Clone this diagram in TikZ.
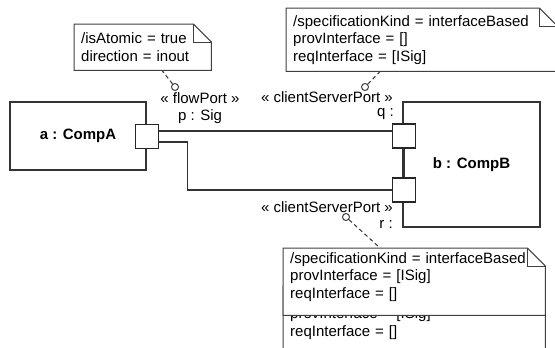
\documentclass[tikz,border=0pt]{standalone}
\usepackage{fontspec}
\setmainfont{Liberation Sans}
\usetikzlibrary{calc}
\newcommand\notefont{\fontsize{15}{17.5}\selectfont}
% note outline with folded corner
\newcommand\dogear[1]{%
  \draw[noteline] (#1.south west) -- (#1.north west) -- ([xshift=-18pt]#1.north east)
     -- ([yshift=-18pt]#1.north east) -- (#1.south east) -- cycle;
  \draw[noteline] ([xshift=-18pt]#1.north east) |- ([yshift=-18pt]#1.north east);}
\tikzset{
  part/.style    ={rectangle,draw=black!80,line width=1.3pt,fill=white,font=\fontsize{15}{18}\selectfont\bfseries},
  port/.style    ={rectangle,draw=black!85,line width=1.2pt,fill=white,minimum width=23pt,minimum height=24pt,inner sep=0pt},
  note/.style    ={rectangle,fill=white,inner xsep=7pt,inner ysep=0pt,align=left,font=\notefont,anchor=north west},
  noteline/.style={draw=black!75,line width=1pt},
  lbl/.style     ={inner sep=0pt,font=\fontsize{15}{18}\selectfont},
  conn/.style    ={black!80,line width=1.2pt},
  anchorline/.style={black!75,line width=1.1pt,dash pattern=on 4pt off 3pt},
  knob/.style    ={circle,draw=black!75,line width=1pt,fill=white,minimum size=7pt,inner sep=0pt},
}
\begin{document}
\begin{tikzpicture}[x=1pt,y=-1pt]
  \useasboundingbox (0,0) rectangle (555,348);
  % parts
  \node[part,minimum width=136pt,minimum height=68pt] (compA) at (78,136) {a : CompA};
  \node[part,minimum width=137pt,minimum height=125pt] (compB) at (471.5,164.5) {b : CompB};
  % ports and connectors
  \node[port] (p) at (147,136.5) {};
  \node[port] (q) at (404,136) {};
  \node[port] (r) at (404,190) {};
  \draw[conn] ([yshift=5.5pt]p.east) -- ([yshift=5.5pt]p.east -| q.west);
  \draw[conn] ([yshift=-5.5pt]p.east) -- ++(28,0) |- (r.west);
  \draw[conn] (q) -- (r);
  % port labels
  \node[lbl] (flowlbl) at (200,98) {« flowPort »};
  \node[lbl] (plbl) at (200,117) {p : Sig};
  \node[lbl,anchor=east] (qster) at (393,97) {« clientServerPort »};
  \node[lbl,anchor=east] (qlbl) at (394,114) {q :};
  \node[lbl,anchor=east] (rster) at (393,207) {« clientServerPort »};
  \node[lbl,anchor=east] (rlbl) at (393,224) {r :};
  % notes
  \node[note,text width=123pt,minimum height=46pt] (na) at (74,24)
    {/isAtomic = true\\direction = inout};
  \dogear{na}
  \node[note,text width=257pt,minimum height=63pt] (nq) at (286,8)
    {/specificationKind = interfaceBased\\provInterface = []\\reqInterface = [ISig]};
  \dogear{nq}
  \node[note,text width=248pt,minimum height=67pt] (nr2) at (283,286)
    {/specificationKind = interfaceBased\\provInterface = [ISig]\\reqInterface = []\\[-5pt]\mbox{}};
  \dogear{nr2}
  \node[note,text width=248pt,minimum height=67pt] (nr) at (283,248)
    {/specificationKind = interfaceBased\\provInterface = [ISig]\\reqInterface = []\\[-5pt]\mbox{}};
  \dogear{nr}
  % note anchors
  \node[knob] (ka) at (175,87) {};
  \node[knob] (kq) at (365,87) {};
  \node[knob] (kr) at (346,217) {};
  \draw[anchorline] (ka) -- ($(na.south west)!0.64!(na.south east)$);
  \draw[anchorline] (kq) -- ($(nq.south west)!0.347!(nq.south east)$);
  \draw[anchorline] (kr) -- ($(nr.north west)!0.37!(nr.north east)$);
\end{tikzpicture}
\end{document}
